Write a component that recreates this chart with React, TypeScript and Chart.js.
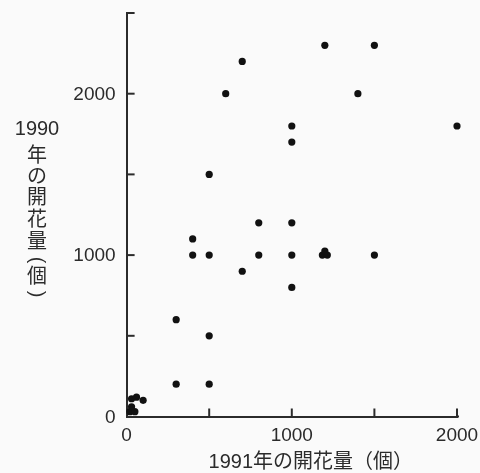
import React, { useEffect, useRef } from "react";
import { Chart, registerables } from "chart.js";

Chart.register(...registerables);

// 1991 flowering amount (x) vs 1990 flowering amount (y)
const flowers1991 = [
  700, 600, 1000, 1000, 500, 1200, 1500, 1400, 2000,
  400, 400, 500, 800, 1000, 800, 1000, 700, 1000,
  300, 500, 300, 500, 1185, 1215, 1200, 1500,
  30, 60, 100, 20, 50, 30,
];
const flowers1990 = [
  2200, 2000, 1800, 1700, 1500, 2300, 2300, 2000, 1800,
  1100, 1000, 1000, 1200, 1200, 1000, 1000, 900, 800,
  600, 500, 200, 200, 1000, 1000, 1025, 1000,
  110, 120, 100, 30, 30, 60,
];
const xTickValues = [0, 500, 1000, 1500, 2000];
const xTickLabels = [0, 1000, 2000];
const yTickValues = [0, 500, 1000, 1500, 2000, 2500];
const yTickLabels = [0, 1000, 2000];
const xTitle = "1991年の開花量（個）";
const yTitleLines = ["1990", "年", "の", "開", "花", "量", "(", "個", ")"];

const INK = "#2b2b2b";
const FONT = '"Liberation Sans", "Noto Sans CJK JP", sans-serif';

export default function App() {
  const ref = useRef<HTMLCanvasElement | null>(null);

  useEffect(() => {
    const canvas = ref.current;
    if (!canvas) return;
    const points = flowers1991.map((x, i) => ({ x, y: flowers1990[i] }));

    const decor = {
      id: "decor",
      beforeDraw(chart: any) {
        const ctx = chart.ctx;
        ctx.save();
        ctx.fillStyle = "#fafafa";
        ctx.fillRect(0, 0, chart.width, chart.height);
        ctx.restore();
      },
      afterDraw(chart: any) {
        const ctx = chart.ctx;
        const xs = chart.scales.x;
        const ys = chart.scales.y;
        const area = chart.chartArea;
        ctx.save();
        ctx.strokeStyle = INK;
        ctx.lineWidth = 2;
        // slight overhang of the x axis line past its last tick
        ctx.beginPath();
        ctx.moveTo(area.right, area.bottom);
        ctx.lineTo(area.right + 2, area.bottom);
        ctx.stroke();
        // inward tick marks
        yTickValues.forEach((v) => {
          if (v === 0) return;
          const py = ys.getPixelForValue(v);
          ctx.beginPath();
          ctx.moveTo(area.left, py);
          ctx.lineTo(area.left + 8, py);
          ctx.stroke();
        });
        xTickValues.forEach((v) => {
          if (v === 0) return;
          const px = xs.getPixelForValue(v);
          ctx.beginPath();
          ctx.moveTo(px, area.bottom);
          ctx.lineTo(px, area.bottom - 8);
          ctx.stroke();
        });
        // tick labels
        ctx.fillStyle = INK;
        ctx.font = `19px ${FONT}`;
        ctx.textBaseline = "middle";
        ctx.textAlign = "right";
        yTickLabels.forEach((v) => {
          ctx.fillText(String(v), area.left - 11, ys.getPixelForValue(v) + 1);
        });
        ctx.textAlign = "center";
        xTickLabels.forEach((v) => {
          ctx.fillText(String(v), xs.getPixelForValue(v), area.bottom + 19);
        });
        // titles
        ctx.font = `20px ${FONT}`;
        ctx.fillText(xTitle, (area.left + area.right) / 2 + 19, 462);
        const yCenters = [129, 156, 177, 198, 220, 242, 260, 277, 294];
        yTitleLines.forEach((t, i) => {
          if (t === "(" || t === ")") {
            ctx.save();
            ctx.translate(37, yCenters[i]);
            ctx.rotate(Math.PI / 2);
            ctx.fillText(t, 0, 0);
            ctx.restore();
          } else {
            ctx.fillText(t, 37, yCenters[i]);
          }
        });
        ctx.restore();
      },
    };

    const chart = new Chart(canvas, {
      type: "scatter",
      data: {
        datasets: [
          {
            data: points,
            backgroundColor: "#111",
            borderWidth: 0,
            pointRadius: 3.6,
            pointHoverRadius: 3.6,
            clip: false,
          },
        ],
      },
      options: {
        animation: false,
        responsive: false,
        events: [],
        layout: { padding: { left: 0, top: 13, right: 23, bottom: 0 } },
        plugins: {
          legend: { display: false },
          tooltip: { enabled: false },
        },
        scales: {
          x: {
            type: "linear",
            min: 0,
            max: 2000,
            afterFit: (s: any) => {
              s.height = 56.5;
            },
            afterBuildTicks: (s: any) => {
              s.ticks = xTickValues.map((v) => ({ value: v }));
            },
            ticks: { display: false },
            grid: { drawOnChartArea: false, drawTicks: false },
            border: { display: true, color: INK, width: 2 },
          },
          y: {
            type: "linear",
            min: 0,
            max: 2500,
            afterFit: (s: any) => {
              s.width = 126.6;
            },
            afterBuildTicks: (s: any) => {
              s.ticks = yTickValues.map((v) => ({ value: v }));
            },
            ticks: { display: false },
            grid: { drawOnChartArea: false, drawTicks: false },
            border: { display: true, color: INK, width: 2 },
          },
        },
      },
      plugins: [decor],
    });

    return () => chart.destroy();
  }, []);

  return (
    <div style={{ position: "absolute", left: 0, top: 0, width: 480, height: 473 }}>
      <canvas ref={ref} width={480} height={473} style={{ width: 480, height: 473 }} />
    </div>
  );
}
